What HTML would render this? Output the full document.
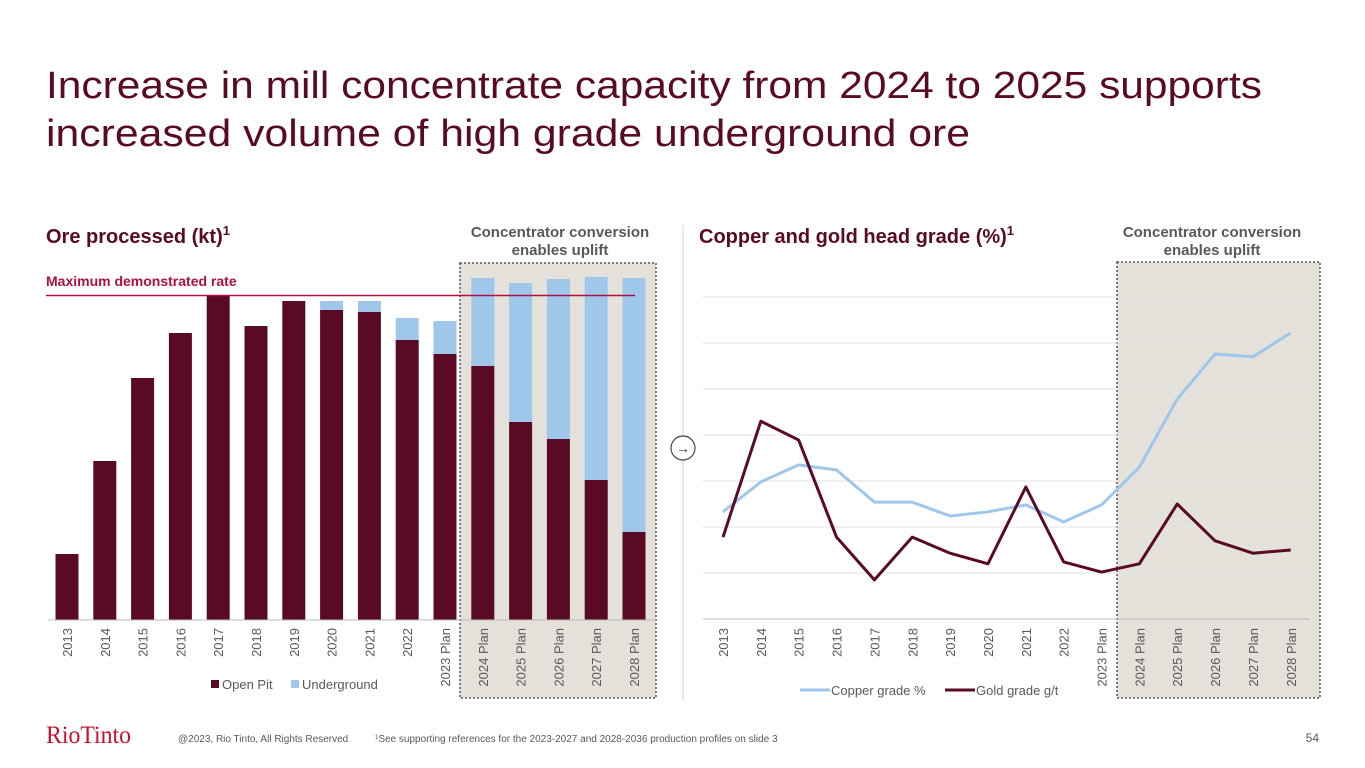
<!DOCTYPE html>
<html><head><meta charset="utf-8"><style>
body{margin:0;background:#fff;}
svg{display:block;font-family:"Liberation Sans",Arial,sans-serif;}
</style></head><body>
<svg id="s" width="1365" height="768" viewBox="0 0 1365 768">
<text x="46" y="98" font-size="38" fill="#5a0a25" textLength="1216" lengthAdjust="spacingAndGlyphs">Increase in mill concentrate capacity from 2024 to 2025 supports</text>
<text x="46" y="146" font-size="38" fill="#5a0a25" textLength="924" lengthAdjust="spacingAndGlyphs">increased volume of high grade underground ore</text>

<text x="46" y="243" font-size="20" font-weight="bold" fill="#5a0a25">Ore processed (kt)<tspan font-size="13" dy="-8">1</tspan></text>
<text x="699" y="243" font-size="20" font-weight="bold" fill="#5a0a25">Copper and gold head grade (%)<tspan font-size="13" dy="-8">1</tspan></text>

<rect x="460" y="263" width="196" height="435" fill="#e4e1db" stroke="#555" stroke-width="1.5" stroke-dasharray="2,2"/>
<rect x="1117" y="262" width="203" height="436" fill="#e4e1db" stroke="#555" stroke-width="1.5" stroke-dasharray="2,2"/>
<text x="560" y="237" font-size="15" font-weight="bold" fill="#595959" text-anchor="middle"><tspan x="560">Concentrator conversion</tspan><tspan x="560" dy="18">enables uplift</tspan></text>
<text x="1212" y="237" font-size="15" font-weight="bold" fill="#595959" text-anchor="middle"><tspan x="1212">Concentrator conversion</tspan><tspan x="1212" dy="18">enables uplift</tspan></text>

<line x1="683" y1="225" x2="683" y2="700" stroke="#d0d0d0" stroke-width="1"/>
<g id="left"></g>
<g id="right"></g>
<circle cx="683" cy="448" r="12" fill="#fff" stroke="#444" stroke-width="1.2"/>
<text x="683" y="453" font-size="14" text-anchor="middle" fill="#333">→</text>

<text x="46" y="286" font-size="14" font-weight="bold" fill="#b0103a">Maximum demonstrated rate</text>

<rect x="211" y="680" width="8" height="8" fill="#5a0a25"/>
<text x="222" y="689" font-size="13" fill="#595959">Open Pit</text>
<rect x="291" y="680" width="8" height="8" fill="#9fc7ec"/>
<text x="302" y="689" font-size="13" fill="#595959">Underground</text>

<line x1="800" y1="690" x2="830" y2="690" stroke="#9fc7ec" stroke-width="3"/>
<text x="831" y="695" font-size="13" fill="#595959">Copper grade %</text>
<line x1="945" y1="690" x2="975" y2="690" stroke="#5a0a25" stroke-width="3"/>
<text x="976" y="695" font-size="13" fill="#595959">Gold grade g/t</text>

<text x="46" y="743" font-size="25" fill="#c8102e" font-family="Liberation Serif,serif" textLength="85" lengthAdjust="spacingAndGlyphs">RioTinto</text>
<text x="178" y="742" font-size="10" fill="#595959">@2023, Rio Tinto, All Rights Reserved</text>
<text x="375" y="742" font-size="10" fill="#595959"><tspan font-size="6" dy="-3">1</tspan><tspan dy="3">See supporting references for the 2023-2027 and 2028-2036 production profiles on slide 3</tspan></text>
<text x="1319" y="742" font-size="12" fill="#595959" text-anchor="end">54</text>
</svg>
<script>
const categories=["2013","2014","2015","2016","2017","2018","2019","2020","2021","2022","2023 Plan","2024 Plan","2025 Plan","2026 Plan","2027 Plan","2028 Plan"];
const openPit=[66,159,242,287,325,294,319,310,308,280,266,254,198,181,140,88];
const underground=[0,0,0,0,0,0,0,9,11,22,33,88,139,160,203,254];
const maxRate=325;
const copperGrade=[2.33,2.98,3.35,3.24,2.54,2.54,2.24,2.33,2.48,2.11,2.48,3.30,4.78,5.76,5.70,6.22];
const goldGrade=[1.78,4.30,3.89,1.78,0.85,1.78,1.43,1.20,2.87,1.24,1.02,1.20,2.50,1.70,1.43,1.50];
const gridTicks=[1,2,3,4,5,6,7];

const NS="http://www.w3.org/2000/svg";
function mk(parent,tag,attrs){const e=document.createElementNS(NS,tag);for(const k in attrs)e.setAttribute(k,attrs[k]);parent.appendChild(e);return e;}
const L=document.getElementById('left'),R=document.getElementById('right');
const lx=i=>67+i*37.8, ly=v=>620-v;
categories.forEach((c,i)=>{
  let r=mk(L,'rect',{x:lx(i)-11.5,y:ly(openPit[i]),width:23,height:openPit[i],fill:'#5a0a25'});
  
  
  if(underground[i]>0){
    let u=mk(L,'rect',{x:lx(i)-11.5,y:ly(openPit[i]+underground[i]),width:23,height:underground[i],fill:'#9fc7ec'});
    
    
  }
  let t=mk(L,'text',{x:0,y:0,'font-size':13,fill:'#595959','text-anchor':'end',transform:`translate(${lx(i)+5},628) rotate(-90)`});
  t.textContent=c;
  
  
});
let ax=mk(L,'line',{x1:48,y1:620,x2:656,y2:620,stroke:'#bbb','stroke-width':1});


let ml=mk(L,'line',{x1:46,y1:ly(maxRate)+0.5,x2:635,y2:ly(maxRate)+0.5,stroke:'#b0103a','stroke-width':1.5});


const rx=i=>723+i*37.85, ry=v=>619-v*46;
gridTicks.forEach(g=>{
  let gl=mk(R,'line',{x1:703,y1:ry(g),x2:1310,y2:ry(g),stroke:'#e2e2e2','stroke-width':1});
  
  
});
let ax2=mk(R,'line',{x1:703,y1:619,x2:1310,y2:619,stroke:'#bbb','stroke-width':1});


categories.forEach((c,i)=>{
  let t=mk(R,'text',{x:0,y:0,'font-size':13,fill:'#595959','text-anchor':'end',transform:`translate(${rx(i)+5},628) rotate(-90)`});
  t.textContent=c;
  
  
});
let cp=mk(R,'polyline',{points:copperGrade.map((v,i)=>rx(i)+','+ry(v)).join(' '),fill:'none',stroke:'#9fc7ec','stroke-width':3,'stroke-linejoin':'round'});


let gd=mk(R,'polyline',{points:goldGrade.map((v,i)=>rx(i)+','+ry(v)).join(' '),fill:'none',stroke:'#5a0a25','stroke-width':3,'stroke-linejoin':'round'});


</script>
</body></html>
